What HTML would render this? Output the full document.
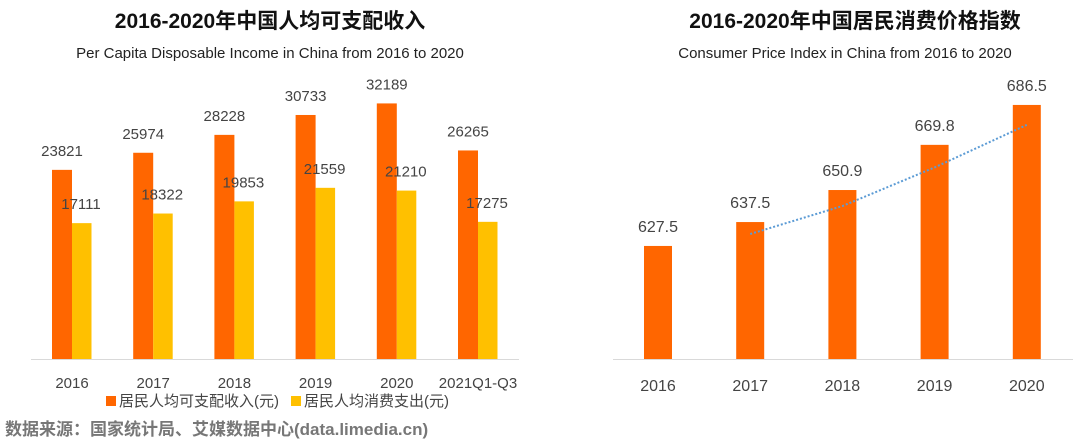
<!DOCTYPE html>
<html><head><meta charset="utf-8"><style>
body{margin:0;background:#fff;width:1080px;height:443px;overflow:hidden;font-family:"Liberation Sans","Noto Sans CJK SC",sans-serif}
</style></head><body>
<svg id="s" width="1080" height="443" xmlns="http://www.w3.org/2000/svg" font-family="Liberation Sans, Noto Sans CJK SC, sans-serif">
<text x="270" y="28" text-anchor="middle" font-size="21" font-weight="bold" fill="#111">2016-2020年中国人均可支配收入</text>
<text x="270" y="58" text-anchor="middle" font-size="15" fill="#222">Per Capita Disposable Income in China from 2016 to 2020</text>
<text x="855" y="28" text-anchor="middle" font-size="21" font-weight="bold" fill="#111">2016-2020年中国居民消费价格指数</text>
<text x="845" y="58" text-anchor="middle" font-size="15" fill="#222">Consumer Price Index in China from 2016 to 2020</text>
<line x1="31" y1="359.5" x2="519" y2="359.5" stroke="#d9d9d9"/>
<line x1="613" y1="359.5" x2="1073" y2="359.5" stroke="#d9d9d9"/>
<rect x="106" y="396" width="10" height="10" fill="#FF6600"/>
<text x="119" y="406" font-size="15" fill="#444">居民人均可支配收入(元)</text>
<rect x="291" y="396" width="10" height="10" fill="#FFC000"/>
<text x="304" y="406" font-size="15" fill="#444">居民人均消费支出(元)</text>
<text x="5" y="435" font-size="17" font-weight="bold" fill="#777">数据来源：国家统计局、艾媒数据中心(data.limedia.cn)</text>
<g id="L"></g><g id="R"></g>
</svg>
<script>
const leftCats=["2016","2017","2018","2019","2020","2021Q1-Q3"];
const incomeVals=[23821,25974,28228,30733,32189,26265];
const spendVals=[17111,18322,19853,21559,21210,17275];
const cpiCats=["2016","2017","2018","2019","2020"];
const cpiVals=[627.5,637.5,650.9,669.8,686.5];
const NS="http://www.w3.org/2000/svg";
function mk(p,t,a){const e=document.createElementNS(NS,t);for(const k in a)e.setAttribute(k,a[k]);p.appendChild(e);return e;}
const L=document.getElementById('L'),R=document.getElementById('R');
const base=359;
const yL=v=>base-v*0.00794;
const xL=i=>52+i*81.2;
leftCats.forEach((c,i)=>{
 const x=xL(i);
 let r=mk(L,'rect',{x:x,y:yL(incomeVals[i]),width:20,height:base-yL(incomeVals[i]),fill:'#FF6600'});
 
 
 r=mk(L,'rect',{x:x+20,y:yL(spendVals[i]),width:19.5,height:base-yL(spendVals[i]),fill:'#FFC000'});
 
 
 let t=mk(L,'text',{x:x+10,y:yL(incomeVals[i])-14,'text-anchor':'middle','font-size':15,fill:'#444'});t.textContent=incomeVals[i];
 
 
 t=mk(L,'text',{x:x+29,y:yL(spendVals[i])-14,'text-anchor':'middle','font-size':15,fill:'#444'});t.textContent=spendVals[i];
 
 
 t=mk(L,'text',{x:x+20,y:388,'text-anchor':'middle','font-size':15,fill:'#444'});t.textContent=c;
 
 
});
const yR=v=>base-(v-580.2)*2.39;
const xR=i=>658+i*92.2;
cpiCats.forEach((c,i)=>{
 const x=xR(i);
 let r=mk(R,'rect',{x:x-14,y:yR(cpiVals[i]),width:28,height:base-yR(cpiVals[i]),fill:'#FF6600'});
 
 
 let t=mk(R,'text',{x:x,y:yR(cpiVals[i])-14,'text-anchor':'middle','font-size':16,fill:'#444'});t.textContent=cpiVals[i].toFixed(1);
 
 
 t=mk(R,'text',{x:x,y:391,'text-anchor':'middle','font-size':16,fill:'#444'});t.textContent=c;
 
 
});
let pts=[];
for(let i=1;i<cpiVals.length;i++){pts.push(xR(i)+','+yR((cpiVals[i]+cpiVals[i-1])/2));}
const pl=mk(R,'polyline',{points:pts.join(' '),fill:'none',stroke:'#5B9BD5','stroke-width':2,'stroke-dasharray':'2 2'});


</script>
</body></html>
